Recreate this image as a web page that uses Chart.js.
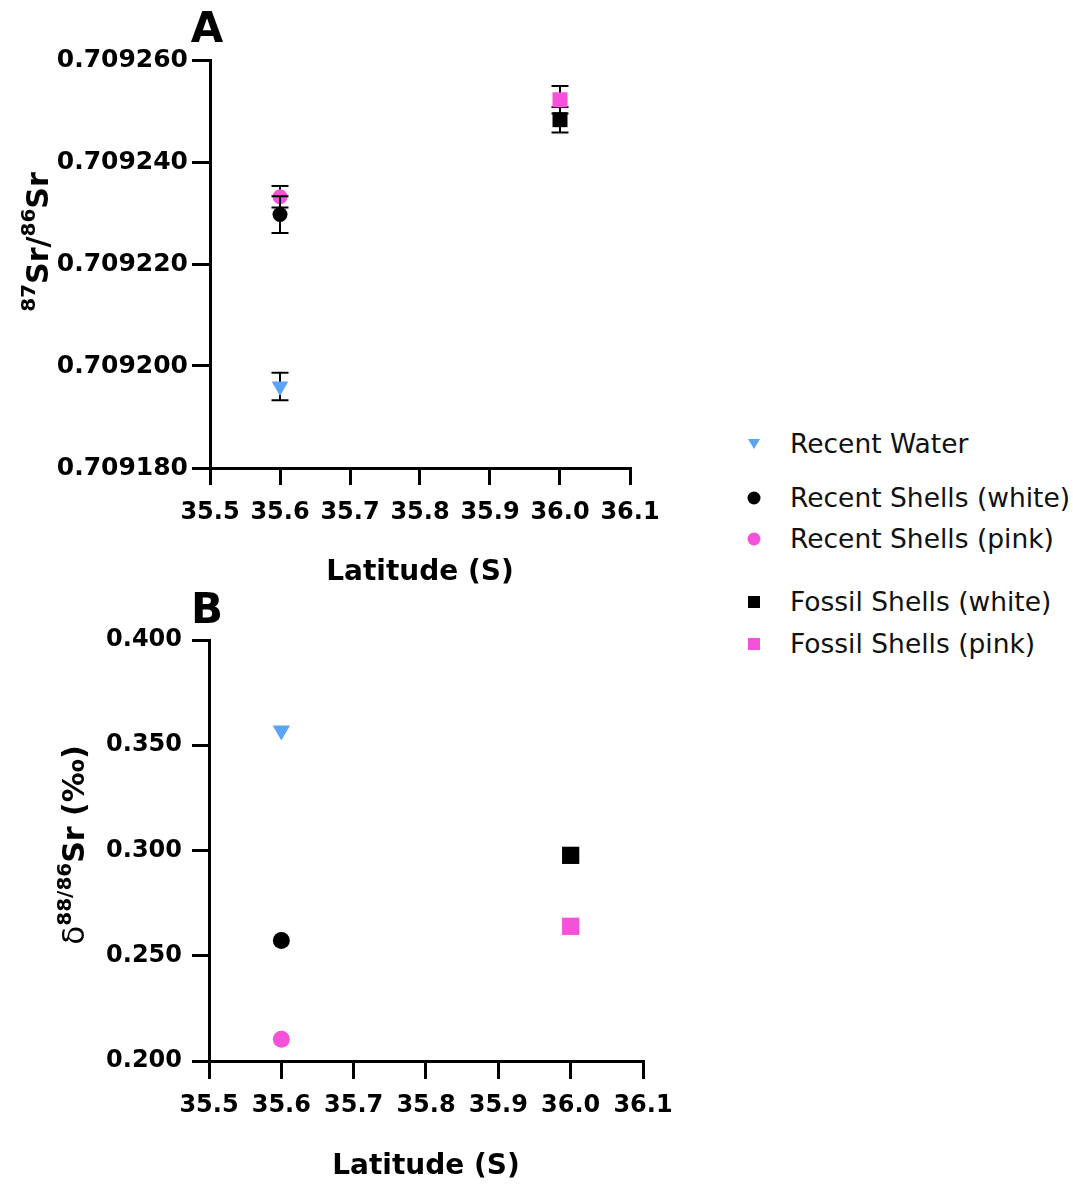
<!DOCTYPE html>
<html>
<head>
<meta charset="utf-8">
<script src="https://cdn.jsdelivr.net/npm/chart.js@4.4.1/dist/chart.umd.min.js"></script>
<style>
html,body{margin:0;padding:0;background:#fff;}
#wrap{position:relative;width:1073px;height:1185px;overflow:hidden;font-family:"DejaVu Sans",sans-serif;}
#cA{position:absolute;left:0;top:0;}
#cB{position:absolute;left:0;top:590px;}
.lg-mark{position:absolute;}
.lg-text{position:absolute;left:790px;height:30px;line-height:30px;font-size:26.5px;color:#111;white-space:nowrap;}
</style>
</head>
<body>
<div id="wrap">
  <canvas id="cA" width="700" height="600"></canvas>
  <canvas id="cB" width="720" height="595"></canvas>
  <div id="legend"></div>
</div>
<script>
// ---------------- DATA ----------------
const seriesLabels = ['Recent Water', 'Recent Shells (white)', 'Recent Shells (pink)', 'Fossil Shells (white)', 'Fossil Shells (pink)'];
const seriesLatitude = [35.6, 35.6, 35.6, 36.0, 36.0];
// Panel A: 87Sr/86Sr with error bars
const srRatioValues = [0.709196, 0.7092297, 0.7092332, 0.7092483, 0.7092522];
const srRatioErrors = [0.0000027, 0.0000036, 0.0000021, 0.0000025, 0.0000027];
// Panel B: delta 88/86 Sr (permil)
const deltaSrValues = [0.357, 0.2572, 0.2103, 0.2977, 0.2640];
// Tick labels
const latitudeTicks = [35.5, 35.6, 35.7, 35.8, 35.9, 36.0, 36.1];
const ratioTicks = [0.709180, 0.709200, 0.709220, 0.709240, 0.709260];
const deltaTicks = [0.200, 0.250, 0.300, 0.350, 0.400];

// ---------------- STYLE ----------------
const BLUE = '#5AA5F7', PINK = '#F552D9', BLACK = '#000000';
const markerColors = [BLUE, BLACK, PINK, BLACK, PINK];
const markerShapes = ['triangle', 'circle', 'circle', 'rect', 'rect'];
const markerRotation = [180, 0, 0, 0, 0];
const drawOrder = [5, 3, 4, 2, 1];
const radiiA = {triangle: 9.6, circle: 7.5, rect: 10.6};
const radiiB = {triangle: 10, circle: 8.5, rect: 12.2};
const FONT = '"DejaVu Sans", sans-serif';

Chart.defaults.font.family = FONT;
Chart.defaults.color = '#000';

const errorBarPlugin = {
  id: 'errorBars',
  beforeDatasetDraw(chart, args) {
    const ds = chart.data.datasets[args.index];
    if (!ds.errors) return;
    const ys = chart.scales.y;
    const ctx = chart.ctx;
    ctx.save();
    ctx.strokeStyle = '#000';
    ctx.lineWidth = 2;
    args.meta.data.forEach((pt, i) => {
      const e = ds.errors[i];
      if (!e) return;
      const v = ds.data[i].y;
      const yt = ys.getPixelForValue(v + e), yb = ys.getPixelForValue(v - e);
      const x = pt.x, hw = 8.5;
      ctx.beginPath();
      ctx.moveTo(x, yt); ctx.lineTo(x, yb);
      ctx.moveTo(x - hw, yt); ctx.lineTo(x + hw, yt);
      ctx.moveTo(x - hw, yb); ctx.lineTo(x + hw, yb);
      ctx.stroke();
    });
    ctx.restore();
  }
};

const panelTextPlugin = {
  id: 'panelText',
  afterDraw(chart, args, opts) {
    const ctx = chart.ctx;
    ctx.save();
    ctx.fillStyle = '#000';
    ctx.textBaseline = 'alphabetic';
    ctx.textAlign = 'center';
    ctx.font = 'bold 42px ' + FONT;
    ctx.fillText(opts.letter, opts.letterX, opts.letterY);
    const segs = opts.segments;
    let total = 0;
    segs.forEach(s => { ctx.font = s.weight + ' ' + s.size + 'px ' + FONT; s.w = ctx.measureText(s.text).width; total += s.w; });
    ctx.translate(opts.titleX, opts.titleY);
    ctx.rotate(-Math.PI / 2);
    ctx.textAlign = 'left';
    let x = -total / 2;
    segs.forEach(s => {
      ctx.font = s.weight + ' ' + s.size + 'px ' + FONT;
      ctx.fillText(s.text, x, -s.rise);
      x += s.w;
    });
    ctx.restore();
  }
};

function makeDatasets(values, errors, radii) {
  return seriesLabels.map((label, i) => ({
    label: label,
    data: [{x: seriesLatitude[i], y: values[i]}],
    errors: errors ? [errors[i]] : null,
    pointStyle: markerShapes[i],
    pointRotation: markerRotation[i],
    pointRadius: radii[markerShapes[i]],
    pointBackgroundColor: markerColors[i],
    pointBorderColor: markerColors[i],
    pointBorderWidth: 0,
    showLine: false,
    order: drawOrder[i],
    clip: false
  }));
}

function axisCommon(tickLen, pad, size) {
  return {
    grid: {drawOnChartArea: false, drawTicks: true, tickLength: tickLen, tickWidth: 3, tickColor: '#000', color: '#000', lineWidth: 3},
    border: {display: true, color: '#000', width: 3},
    ticks: {font: {size: size, weight: 'bold', family: FONT}, color: '#000', padding: pad, autoSkip: false, maxRotation: 0}
  };
}

function makeChart(canvasId, cfg) {
  const xAxis = axisCommon(cfg.xTickLen, cfg.xTickPad, 24);
  const yAxis = axisCommon(cfg.yTickLen, cfg.yTickPad, cfg.yTickSize);
  return new Chart(document.getElementById(canvasId), {
    type: 'scatter',
    data: {datasets: makeDatasets(cfg.values, cfg.errors, cfg.radii)},
    options: {
      responsive: false,
      animation: false,
      events: [],
      layout: {padding: cfg.padding},
      plugins: {
        legend: {display: false},
        tooltip: {enabled: false},
        panelText: cfg.text
      },
      scales: {
        x: Object.assign(xAxis, {
          type: 'linear', min: latitudeTicks[0], max: latitudeTicks[latitudeTicks.length - 1],
          afterBuildTicks: s => { s.ticks = latitudeTicks.map(v => ({value: v})); },
          afterFit: s => { s.height = cfg.xHeight; },
          title: {display: true, text: 'Latitude (S)', font: {size: 28, weight: 'bold', family: FONT}, color: '#000', padding: {top: 0, bottom: cfg.xTitlePad}}
        }),
        y: Object.assign(yAxis, {
          type: 'linear', min: cfg.yTicks[0], max: cfg.yTicks[cfg.yTicks.length - 1],
          afterBuildTicks: s => { s.ticks = cfg.yTicks.map(v => ({value: v})); },
          afterFit: s => { s.width = cfg.yWidth; },
          title: {display: false}
        })
      }
    },
    plugins: [errorBarPlugin, panelTextPlugin]
  });
}

function fmt(dec) { return function(v) { return Number(v).toFixed(dec); }; }

const chartA = makeChart('cA', {
  values: srRatioValues, errors: srRatioErrors, radii: radiiA, yTicks: ratioTicks,
  padding: {top: 60, left: 0, right: 70, bottom: 0},
  xHeight: 132, yWidth: 210, xTickLen: 17, xTickPad: 13, yTickLen: 18, yTickPad: 4, yTickSize: 25, xTitlePad: 10,
  text: {letter: 'A', letterX: 207, letterY: 42, titleX: 48, titleY: 242,
    segments: [
      {text: '87', size: 20, weight: 'bold', rise: 13},
      {text: 'Sr/', size: 30, weight: 'bold', rise: 0},
      {text: '86', size: 20, weight: 'bold', rise: 13},
      {text: 'Sr', size: 30, weight: 'bold', rise: 0}
    ]}
});
const chartB = makeChart('cB', {
  values: deltaSrValues, errors: null, radii: radiiB, yTicks: deltaTicks,
  padding: {top: 50, left: 0, right: 77, bottom: 0},
  xHeight: 124, yWidth: 209, xTickLen: 18, xTickPad: 12, yTickLen: 17, yTickPad: 10, yTickSize: 24, xTitlePad: 1,
  text: {letter: 'B', letterX: 207, letterY: 33, titleX: 84, titleY: 255,
    segments: [
      {text: 'δ', size: 31, weight: 'normal', rise: 0},
      {text: '88/86', size: 20, weight: 'bold', rise: 13},
      {text: 'Sr (‰)', size: 30, weight: 'bold', rise: 0}
    ]}
});
chartA.options.scales.x.ticks.callback = fmt(1);
chartA.options.scales.y.ticks.callback = fmt(6);
chartB.options.scales.x.ticks.callback = fmt(1);
chartB.options.scales.y.ticks.callback = fmt(3);
chartA.update('none');
chartB.update('none');

// ---------------- HTML LEGEND ----------------
const legendRowY = [443.5, 498, 539, 602, 644];
const legendMarkerSvg = {
  triangle: c => `<svg width="16" height="16" viewBox="0 0 16 16"><polygon points="2,3 14,3 8,13" fill="${c}"/></svg>`,
  circle: c => `<svg width="16" height="16" viewBox="0 0 16 16"><circle cx="8" cy="8" r="6.5" fill="${c}"/></svg>`,
  rect: c => `<svg width="16" height="16" viewBox="0 0 16 16"><rect x="2" y="2" width="12" height="12" fill="${c}"/></svg>`
};
const legendEl = document.getElementById('legend');
seriesLabels.forEach((label, i) => {
  const m = document.createElement('div');
  m.className = 'lg-mark';
  m.style.left = (754 - 8) + 'px';
  m.style.top = (legendRowY[i] - 8) + 'px';
  m.innerHTML = legendMarkerSvg[markerShapes[i]](markerColors[i]);
  legendEl.appendChild(m);
  const t = document.createElement('div');
  t.className = 'lg-text';
  t.style.top = (legendRowY[i] - 15) + 'px';
  t.textContent = label;
  legendEl.appendChild(t);
});
</script>
</body>
</html>
